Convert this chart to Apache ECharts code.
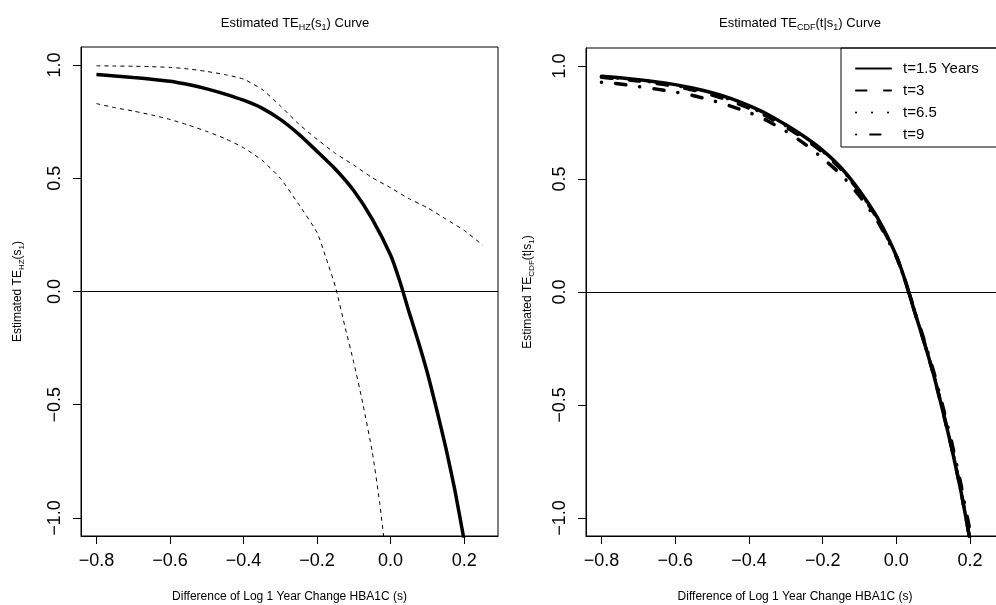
<!DOCTYPE html>
<html>
<head>
<meta charset="utf-8">
<script src="https://cdn.jsdelivr.net/npm/echarts@6/dist/echarts.min.js"></script>
<style>
  html, body { margin: 0; padding: 0; background: #fff; }
  #chart { width: 996px; height: 605px; }
</style>
</head>
<body>
<div id="chart"></div>
<script>
// ---- left panel: estimated TE_HZ(s1) with pointwise band ----
const hzX = [-0.8, -0.75, -0.7, -0.65, -0.6, -0.55, -0.5, -0.45, -0.4, -0.35, -0.3, -0.25,
  -0.2, -0.15, -0.1, -0.05, 0, 0.025, 0.05, 0.075, 0.1, 0.125, 0.15, 0.175, 0.2];
const hzEst = [0.958, 0.952, 0.945, 0.938, 0.929, 0.914, 0.895, 0.872, 0.845, 0.81, 0.76, 0.695,
  0.619, 0.54, 0.445, 0.32, 0.16, 0.045, -0.09, -0.22, -0.36, -0.52, -0.69, -0.88, -1.1];

const upperX = [-0.8, -0.75, -0.7, -0.65, -0.6, -0.55, -0.5, -0.45, -0.4, -0.35, -0.3, -0.25,
  -0.2, -0.15, -0.1, -0.05, 0, 0.05, 0.1, 0.15, 0.2, 0.25];
const hzUpper = [0.997, 0.996, 0.995, 0.993, 0.99, 0.983, 0.972, 0.958, 0.938, 0.893, 0.82, 0.74,
  0.672, 0.61, 0.558, 0.503, 0.458, 0.41, 0.37, 0.32, 0.27, 0.205];

const lowerX = [-0.8, -0.75, -0.7, -0.65, -0.6, -0.55, -0.5, -0.45, -0.4, -0.35, -0.3, -0.25,
  -0.2, -0.175, -0.15, -0.125, -0.1, -0.075, -0.05, -0.03, -0.015];
const hzLower = [0.83, 0.812, 0.797, 0.78, 0.76, 0.735, 0.707, 0.675, 0.635, 0.58, 0.5, 0.385,
  0.26, 0.145, 0.02, -0.15, -0.315, -0.5, -0.708, -0.93, -1.14];

// ---- right panel: estimated TE_CDF(t|s1) for four times ----
const cdfX = [-0.8, -0.75, -0.7, -0.65, -0.6, -0.55, -0.5, -0.45, -0.4, -0.35, -0.3, -0.25,
  -0.2, -0.15, -0.1, -0.05, 0, 0.025, 0.05, 0.075, 0.1, 0.125, 0.15, 0.175, 0.2];
const cdfT15 = [0.955, 0.948, 0.94, 0.93, 0.918, 0.902, 0.882, 0.857, 0.825, 0.787, 0.74, 0.688,
  0.627, 0.55, 0.448, 0.325, 0.16, 0.045, -0.09, -0.22, -0.36, -0.52, -0.69, -0.88, -1.1];
const cdfT3 = [0.95, 0.943, 0.934, 0.923, 0.91, 0.893, 0.872, 0.846, 0.814, 0.776, 0.73, 0.679,
  0.619, 0.543, 0.443, 0.321, 0.158, 0.044, -0.09, -0.22, -0.36, -0.52, -0.69, -0.88, -1.1];
const cdfT65 = [0.953, 0.946, 0.937, 0.927, 0.914, 0.898, 0.877, 0.852, 0.82, 0.782, 0.736, 0.684,
  0.623, 0.547, 0.446, 0.323, 0.159, 0.045, -0.09, -0.22, -0.36, -0.52, -0.69, -0.88, -1.1];
const cdfT9 = [0.928, 0.921, 0.909, 0.898, 0.885, 0.869, 0.848, 0.823, 0.795, 0.758, 0.712, 0.657,
  0.592, 0.52, 0.425, 0.31, 0.155, 0.045, -0.085, -0.21, -0.345, -0.5, -0.665, -0.85, -1.06];
const timeNames = ['t=1.5 Years', 't=3', 't=6.5', 't=9'];

const xTicks = [-0.8, -0.6, -0.4, -0.2, 0, 0.2];
const yTicks = [-1, -0.5, 0, 0.5, 1];

const pairs = (xs, ys) => xs.map((x, i) => [x, ys[i]]);
const fmt = v => (Math.abs(v) < 1e-9 ? '0.0' : (v < 0 ? '\u2212' : '') + Math.abs(v).toFixed(1));

const FONT = 'Liberation Sans, Arial, Helvetica, sans-serif';
const rich = {
  a: { fontFamily: FONT, fontSize: 12, lineHeight: 16, color: '#000', fontWeight: 'normal' },
  s: { fontFamily: FONT, fontSize: 8, lineHeight: 8, verticalAlign: 'bottom', color: '#000', fontWeight: 'normal' }
};
const titleRich = {
  a: { fontFamily: FONT, fontSize: 13, lineHeight: 17, color: '#000', fontWeight: 'normal' },
  s: { fontFamily: FONT, fontSize: 9, lineHeight: 9, verticalAlign: 'bottom', color: '#000', fontWeight: 'normal' }
};

function xAxisFor(idx) {
  return {
    type: 'value', gridIndex: idx, min: -0.842, max: 0.292,
    name: 'Difference of Log 1 Year Change HBA1C (s)',
    nameLocation: 'middle', nameGap: 55,
    nameTextStyle: { fontFamily: FONT, fontSize: 12, color: '#000' },
    axisLine: { show: true, onZero: false, lineStyle: { color: '#000', width: 1 } },
    axisTick: { show: true, length: 8, customValues: xTicks, lineStyle: { color: '#000' } },
    axisLabel: { customValues: xTicks, formatter: fmt, margin: 16,
      fontFamily: FONT, fontSize: 18, color: '#000' },
    splitLine: { show: false }
  };
}
function yAxisFor(idx, nameText, gap) {
  return {
    type: 'value', gridIndex: idx, min: -1.08, max: 1.08,
    name: nameText, nameLocation: 'middle', nameGap: gap, nameRotate: 90,
    nameTextStyle: { rich: rich },
    axisLine: { show: true, onZero: false, lineStyle: { color: '#000', width: 1 } },
    axisTick: { show: true, length: 8, customValues: yTicks, lineStyle: { color: '#000' } },
    axisLabel: { customValues: yTicks, formatter: fmt, margin: 17, rotate: 90,
      fontFamily: FONT, fontSize: 18, color: '#000' },
    splitLine: { show: false }
  };
}
const zeroLine = {
  silent: true, symbol: ['none', 'none'], label: { show: false },
  lineStyle: { color: '#000', width: 1, type: 'solid' },
  data: [{ yAxis: 0 }]
};

const chart = echarts.init(document.getElementById('chart'));
chart.setOption({
  animation: false,
  backgroundColor: '#fff',
  title: [
    { text: '{a|Estimated TE}{s|HZ}{a|(s}{s|1}{a|) Curve}', left: 290, top: 10, textAlign: 'center',
      textStyle: { rich: titleRich } },
    { text: '{a|Estimated TE}{s|CDF}{a|(t|s}{s|1}{a|) Curve}', left: 795, top: 10, textAlign: 'center',
      textStyle: { rich: titleRich } }
  ],
  grid: [
    { left: 81, top: 47, width: 417, height: 489, show: true, borderColor: '#000', borderWidth: 1,
      containLabel: false, outerBoundsMode: 'none' },
    { left: 586, top: 48, width: 418, height: 488, show: true, borderColor: '#000', borderWidth: 1,
      containLabel: false, outerBoundsMode: 'none' }
  ],
  xAxis: [xAxisFor(0), xAxisFor(1)],
  yAxis: [
    yAxisFor(0, '{a|Estimated TE}{s|HZ}{a|(s}{s|1}{a|)}', 55),
    yAxisFor(1, '{a|Estimated TE}{s|CDF}{a|(t|s}{s|1}{a|)}', 50)
  ],
  legend: {
    data: timeNames, orient: 'vertical', left: 841, top: 48,
    itemWidth: 35, itemHeight: 14, itemGap: 7,
    padding: [13, 30, 5, 14],
    borderColor: '#000', borderWidth: 1, selectedMode: false,
    itemStyle: { opacity: 0 },
    textStyle: { fontFamily: FONT, fontSize: 15, color: '#000', padding: [0, 0, 0, 7] }
  },
  series: [
    { type: 'line', xAxisIndex: 0, yAxisIndex: 0, data: pairs(upperX, hzUpper), symbol: 'none', smooth: 0.2,
      lineStyle: { color: '#000', width: 1, type: [4, 4] }, z: 2 },
    { type: 'line', xAxisIndex: 0, yAxisIndex: 0, data: pairs(lowerX, hzLower), symbol: 'none', smooth: 0.2,
      lineStyle: { color: '#000', width: 1, type: [4, 4] }, z: 2 },
    { type: 'line', xAxisIndex: 0, yAxisIndex: 0, data: pairs(hzX, hzEst), symbol: 'none', smooth: 0.2,
      lineStyle: { color: '#000', width: 3.5 }, markLine: zeroLine, z: 3 },

    { name: timeNames[0], type: 'line', xAxisIndex: 1, yAxisIndex: 1, data: pairs(cdfX, cdfT15),
      symbol: 'none', smooth: 0.2, lineStyle: { color: '#000', width: 3.5, cap: 'round' },
      itemStyle: { color: '#000' }, markLine: zeroLine },
    { name: timeNames[1], type: 'line', xAxisIndex: 1, yAxisIndex: 1, data: pairs(cdfX, cdfT3),
      symbol: 'none', smooth: 0.2, lineStyle: { color: '#000', width: 3.5, cap: 'round', type: [10.5, 17.5] },
      itemStyle: { color: '#000' } },
    { name: timeNames[2], type: 'line', xAxisIndex: 1, yAxisIndex: 1, data: pairs(cdfX, cdfT65),
      symbol: 'none', smooth: 0.2, lineStyle: { color: '#000', width: 3.5, cap: 'round', type: [0.1, 15.9] },
      itemStyle: { color: '#000' } },
    { name: timeNames[3], type: 'line', xAxisIndex: 1, yAxisIndex: 1, data: pairs(cdfX, cdfT9),
      symbol: 'none', smooth: 0.2, lineStyle: { color: '#000', width: 3.5, cap: 'round', type: [0.1, 14, 10.5, 14] },
      itemStyle: { color: '#000' } }
  ]
});
</script>
</body>
</html>
